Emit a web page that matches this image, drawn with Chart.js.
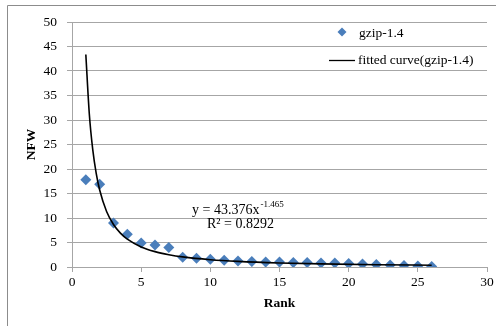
<!DOCTYPE html>
<html>
<head>
<meta charset="utf-8">
<script src="https://cdn.jsdelivr.net/npm/chart.js@4"></script>
<style>
  html, body { margin: 0; padding: 0; background: #fff; }
  #wrap { width: 496px; height: 326px; }
</style>
</head>
<body>
<div id="wrap"><canvas id="nfw" width="496" height="326"></canvas></div>
<script>
const ranks = [1, 2, 3, 4, 5, 6, 7, 8, 9, 10, 11, 12, 13, 14, 15, 16, 17, 18, 19, 20, 21, 22, 23, 24, 25, 26];
const nfw = [17.8, 16.9, 9.0, 6.7, 4.9, 4.5, 4.0, 2.0, 1.8, 1.6, 1.4, 1.2, 1.1, 1.0, 1.0, 0.9, 0.9, 0.8, 0.8, 0.7, 0.6, 0.5, 0.4, 0.3, 0.2, 0.1];
// fitted curve, read at a few x positions
const curveX = [1, 1.25, 1.5, 1.75, 2, 2.5, 3, 3.5, 4, 5, 6, 7, 8, 10, 12, 15, 18, 22, 26];
const curveY = [43.38, 31.28, 23.95, 19.11, 15.71, 11.33, 8.67, 6.92, 5.69, 4.10, 3.14, 2.51, 2.06, 1.49, 1.14, 0.82, 0.63, 0.47, 0.37];
const xTicks = [0, 5, 10, 15, 20, 25, 30];
const yTicks = [0, 5, 10, 15, 20, 25, 30, 35, 40, 45, 50];

const blue = "#4a7ebb";
const grid = "#a6a6a6";
const serif = "'Liberation Serif', 'Times New Roman', serif";

const frame = {
  id: "frame",
  beforeDraw(chart) {
    const c = chart.ctx;
    c.save();
    c.strokeStyle = "#8c8c8c";
    c.lineWidth = 1;
    c.beginPath();
    c.moveTo(7.5, 326);
    c.lineTo(7.5, 5.5);
    c.lineTo(496, 5.5);
    c.stroke();
    c.restore();
  },
  afterDraw(chart) {
    const c = chart.ctx;
    c.save();
    c.font = "13.5px " + serif;
    c.fillStyle = "#000";
    c.textBaseline = "middle";
    // legend
    c.fillStyle = blue;
    c.beginPath();
    c.moveTo(342, 27.5); c.lineTo(346.5, 32); c.lineTo(342, 36.5); c.lineTo(337.5, 32);
    c.closePath(); c.fill();
    c.fillStyle = "#000";
    c.fillText("gzip-1.4", 359, 33);
    c.strokeStyle = "#000";
    c.lineWidth = 1.3;
    c.beginPath(); c.moveTo(329, 60.5); c.lineTo(355, 60.5); c.stroke();
    c.fillText("fitted curve(gzip-1.4)", 358, 60);
    // equation
    const ex = 192, ey = 210;
    const t1 = "y = 43.376x";
    c.font = "14px " + serif;
    c.fillText(t1, ex, ey);
    const w1 = c.measureText(t1).width;
    c.font = "9px " + serif;
    c.fillText("-1.465", ex + w1 + 1, ey - 5);
    c.font = "14px " + serif;
    c.fillText("R\u00b2 = 0.8292", 207, 224);
    c.restore();
  }
};

new Chart(document.getElementById("nfw"), {
  type: "scatter",
  data: {
    datasets: [
      {
        label: "gzip-1.4",
        data: ranks.map((r, i) => ({ x: r, y: nfw[i] })),
        pointStyle: "rectRot",
        pointRadius: 5.5,
        backgroundColor: blue,
        borderColor: blue,
        borderWidth: 0,
        order: 2
      },
      {
        label: "fitted curve(gzip-1.4)",
        type: "line",
        data: curveX.map((r, i) => ({ x: r, y: curveY[i] })),
        borderColor: "#000",
        borderWidth: 1.6,
        pointRadius: 0,
        cubicInterpolationMode: "monotone",
        fill: false,
        order: 1
      }
    ]
  },
  options: {
    responsive: false,
    animation: false,
    events: [],
    layout: { padding: { left: 8, right: 9, top: 22, bottom: 14 } },
    plugins: { legend: { display: false }, tooltip: { enabled: false } },
    scales: {
      x: {
        type: "linear",
        min: 0, max: 30,
        afterBuildTicks: (s) => { s.ticks = xTicks.map((v) => ({ value: v })); },
        afterFit: (s) => { s.height = 45; },
        ticks: { font: { family: serif, size: 13.5 }, color: "#000", padding: 2 },
        grid: { drawOnChartArea: false, color: grid, tickLength: 5 },
        border: { color: grid },
        title: { display: true, text: "Rank", font: { family: serif, size: 13.5, weight: "bold" }, color: "#000", padding: { top: 4, bottom: 0 } }
      },
      y: {
        min: 0, max: 50,
        afterBuildTicks: (s) => { s.ticks = yTicks.map((v) => ({ value: v })); },
        afterFit: (s) => { s.width = 64; },
        ticks: { font: { family: serif, size: 13.5 }, color: "#000", padding: 10 },
        grid: { color: grid, tickLength: 5 },
        border: { color: grid },
        title: { display: true, text: "NFW", font: { family: serif, size: 13.5, weight: "bold" }, color: "#000", padding: { top: 15, bottom: 0 } }
      }
    }
  },
  plugins: [frame]
});
</script>
</body>
</html>
